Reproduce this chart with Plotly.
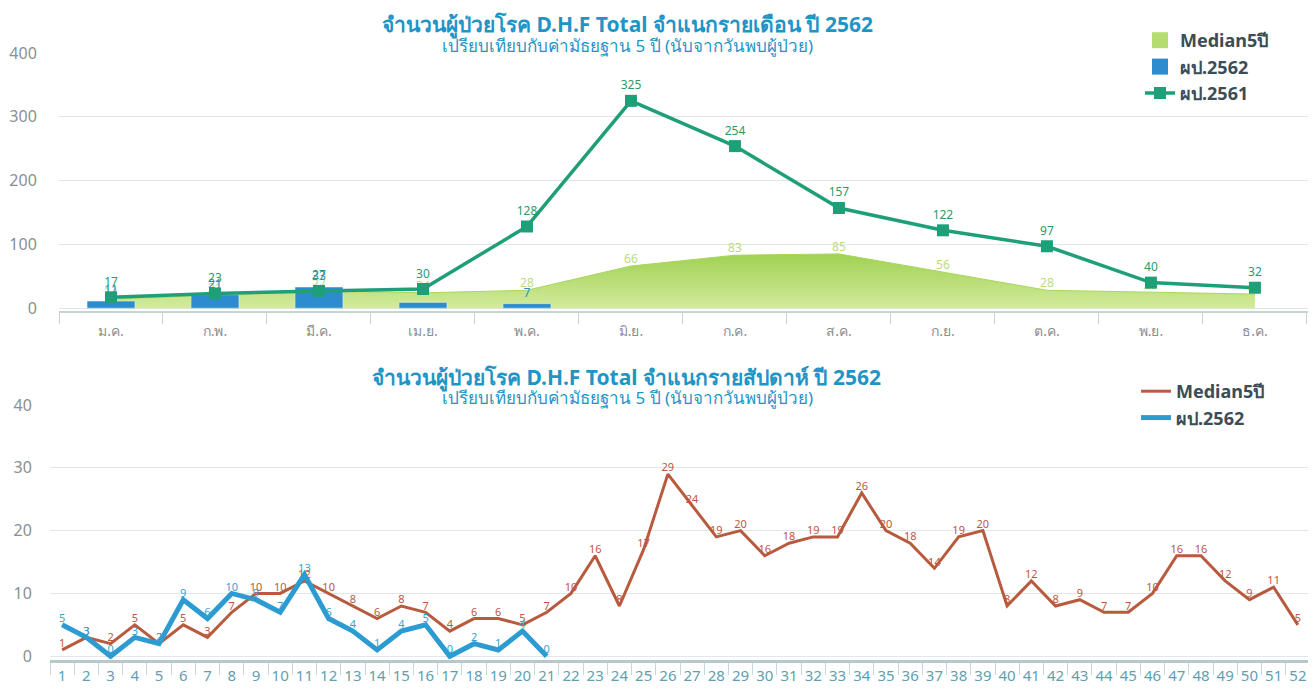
import plotly.graph_objects as go

# ---------------- data ----------------
months = ["ม.ค.", "ก.พ.", "มี.ค.", "เม.ย.", "พ.ค.", "มิ.ย.", "ก.ค.", "ส.ค.", "ก.ย.", "ต.ค.", "พ.ย.", "ธ.ค."]
median_month = [14, 21, 27, 24, 28, 66, 83, 85, 56, 28, 25, 22]
cases2562_month = [11, 21, 33, 9, 7, None, None, None, None, None, None, None]
cases2561_month = [17, 23, 27, 30, 128, 325, 254, 157, 122, 97, 40, 32]

weeks = [str(i) for i in range(1, 53)]
median_week = [1, 3, 2, 5, 2, 5, 3, 7, 10, 10, 12, 10, 8, 6, 8, 7, 4, 6, 6, 5,
               7, 10, 16, 8, 17, 29, 24, 19, 20, 16, 18, 19, 19, 26, 20, 18, 14, 19, 20, 8,
               12, 8, 9, 7, 7, 10, 16, 16, 12, 9, 11, 5]
cases2562_week = [5, 3, 0, 3, 2, 9, 6, 10, 9, 7, 13, 6, 4, 1, 4, 5, 0, 2, 1, 4, 0]

FONT = "Noto Sans, DejaVu Sans, sans-serif"
TITLE_C = "#1f95c6"
GRID_C = "#e3e6e6"
TICK_C = "#8a8f90"
MED_C = "#b5dc70"
BAR_C = "#2c8ccf"
L61_C = "#1f9f78"
LEG_C = "#3b4d55"

# page body has an 8px margin: figure is placed at (8, 8)
OFF = 8
W = 1316.0 - OFF
H = 697.0 - OFF


def fx(px):
    return (px - OFF) / W


def fy(py):
    return 1 - (py - OFF) / H


fig = go.Figure()

# ---------------- top chart ----------------
fig.add_trace(go.Scatter(
    x=months, y=median_month, name="Median5ปี", mode="lines+text",
    line=dict(color="#a9d65c", width=1),
    fill="tozeroy",
    fillgradient=dict(type="vertical", start=0, stop=85,
                      colorscale=[[0, "#d3eb9c"], [1, "#9fd152"]]),
    text=[str(v) for v in median_month], textposition="top center",
    textfont=dict(color="#bcdc78", size=12, family=FONT),
    xaxis="x", yaxis="y", showlegend=False,
))
fig.add_trace(go.Bar(
    x=months, y=cases2562_month, name="ผป.2562",
    marker=dict(color=BAR_C), width=0.46,
    text=[str(v) if v is not None else "" for v in cases2562_month],
    textposition="outside", textfont=dict(color=BAR_C, size=12, family=FONT),
    cliponaxis=False, showlegend=False,
    xaxis="x", yaxis="y3",
))
# legend swatches (square, like the reference)
fig.add_trace(go.Scatter(
    x=[None], y=[None], name="<b>Median5ปี</b>", mode="markers",
    marker=dict(symbol="square", size=19, color=MED_C),
    xaxis="x", yaxis="y4", legend="legend",
))
fig.add_trace(go.Scatter(
    x=[None], y=[None], name="<b>ผป.2562</b>", mode="markers",
    marker=dict(symbol="square", size=19, color=BAR_C),
    xaxis="x", yaxis="y4", legend="legend",
))
fig.add_trace(go.Scatter(
    x=months, y=cases2561_month, name="<b>ผป.2561</b>", mode="lines+markers+text",
    line=dict(color=L61_C, width=3.5),
    marker=dict(symbol="square", size=12, color=L61_C),
    text=[str(v) for v in cases2561_month], textposition="top center",
    textfont=dict(color="#2a9a6a", size=12, family=FONT),
    cliponaxis=False,
    xaxis="x", yaxis="y4", legend="legend",
))

# ---------------- bottom chart ----------------
fig.add_trace(go.Scatter(
    x=weeks, y=median_week, name="<b>Median5ปี</b>", mode="lines+text",
    line=dict(color="#b85a3e", width=3),
    text=[str(v) for v in median_week], textposition="top center",
    textfont=dict(color="#c0563e", size=11, family=FONT),
    cliponaxis=False,
    xaxis="x2", yaxis="y2", legend="legend2",
))
fig.add_trace(go.Scatter(
    x=weeks[:len(cases2562_week)], y=cases2562_week, name="<b>ผป.2562</b>", mode="lines+text",
    line=dict(color="#2b9bd1", width=5),
    text=[str(v) for v in cases2562_week], textposition="top center",
    textfont=dict(color="#3aa2cf", size=11, family=FONT),
    cliponaxis=False,
    xaxis="x2", yaxis="y2", legend="legend2",
))

YR_TOP = [-4.5, 400]

fig.update_layout(
    width=int(W), height=int(H),
    margin=dict(l=0, r=0, t=0, b=0, autoexpand=False),
    paper_bgcolor="white", plot_bgcolor="white",
    font=dict(family=FONT, color=TICK_C),
    showlegend=True,
    barmode="overlay",
    xaxis=dict(domain=[fx(59), fx(1309)], anchor="y", type="category", automargin=False,
               range=[-0.5, 11.52], tickson="boundaries", ticks="outside",
               ticklen=11, tickcolor="#c9d3d6", showline=True, linecolor="#c9d3d6",
               linewidth=1.5, showgrid=False, tickangle=0, ticklabelstandoff=6,
               tickfont=dict(size=14, color="#8a8f90", family=FONT)),
    yaxis=dict(domain=[fy(311), fy(53)], anchor="x", range=YR_TOP, automargin=False,
               tickvals=[0, 100, 200, 300, 400], showgrid=True, gridcolor=GRID_C,
               zeroline=False, ticks="outside", ticklen=18, tickcolor="rgba(0,0,0,0)",
               tickfont=dict(size=16, color=TICK_C, family=FONT)),
    yaxis3=dict(overlaying="y", range=YR_TOP, visible=False, anchor="x", automargin=False),
    yaxis4=dict(overlaying="y", range=YR_TOP, visible=False, anchor="x", automargin=False),
    xaxis2=dict(domain=[fx(50), fx(1310)], anchor="y2", type="category", automargin=False,
                range=[-0.5, 51.5], tickson="boundaries", ticks="outside",
                ticklen=12, tickcolor="#c4d8de", showline=True, linecolor="#b7c8cc",
                linewidth=2.5, showgrid=False, tickangle=0,
                tickfont=dict(size=15, color="#5f9fae", family=FONT)),
    yaxis2=dict(domain=[fy(660), fy(405)], anchor="x2", range=[-0.6, 40], automargin=False,
                tickvals=[0, 10, 20, 30, 40], showgrid=True, gridcolor=GRID_C,
                zeroline=False, ticks="outside", ticklen=14, tickcolor="rgba(0,0,0,0)",
                tickfont=dict(size=16, color=TICK_C, family=FONT)),
    legend=dict(x=fx(1140), y=fy(22), xanchor="left", yanchor="top",
                bgcolor="rgba(0,0,0,0)", tracegroupgap=0, traceorder="normal",
                itemwidth=30, itemsizing="trace",
                font=dict(size=18, color=LEG_C, family=FONT)),
    legend2=dict(x=fx(1136), y=fy(373), xanchor="left", yanchor="top",
                 bgcolor="rgba(0,0,0,0)", traceorder="normal", itemwidth=30,
                 font=dict(size=18, color=LEG_C, family=FONT)),
)

fig.add_annotation(text="<b>จำนวนผู้ป่วยโรค D.H.F Total จำแนกรายเดือน ปี 2562</b>",
                   x=fx(627), y=fy(25), xref="paper", yref="paper", showarrow=False,
                   xanchor="center", yanchor="middle",
                   font=dict(size=21, color=TITLE_C, family=FONT))
fig.add_annotation(text="เปรียบเทียบกับค่ามัธยฐาน 5 ปี (นับจากวันพบผู้ป่วย)",
                   x=fx(627), y=fy(45), xref="paper", yref="paper", showarrow=False,
                   xanchor="center", yanchor="middle",
                   font=dict(size=17, color=TITLE_C, family=FONT))
fig.add_annotation(text="<b>จำนวนผู้ป่วยโรค D.H.F Total จำแนกรายสัปดาห์ ปี 2562</b>",
                   x=fx(626), y=fy(377), xref="paper", yref="paper", showarrow=False,
                   xanchor="center", yanchor="middle",
                   font=dict(size=21, color=TITLE_C, family=FONT))
fig.add_annotation(text="เปรียบเทียบกับค่ามัธยฐาน 5 ปี (นับจากวันพบผู้ป่วย)",
                   x=fx(627), y=fy(397), xref="paper", yref="paper", showarrow=False,
                   xanchor="center", yanchor="middle",
                   font=dict(size=17, color=TITLE_C, family=FONT))

fig.write_html("out.html")
